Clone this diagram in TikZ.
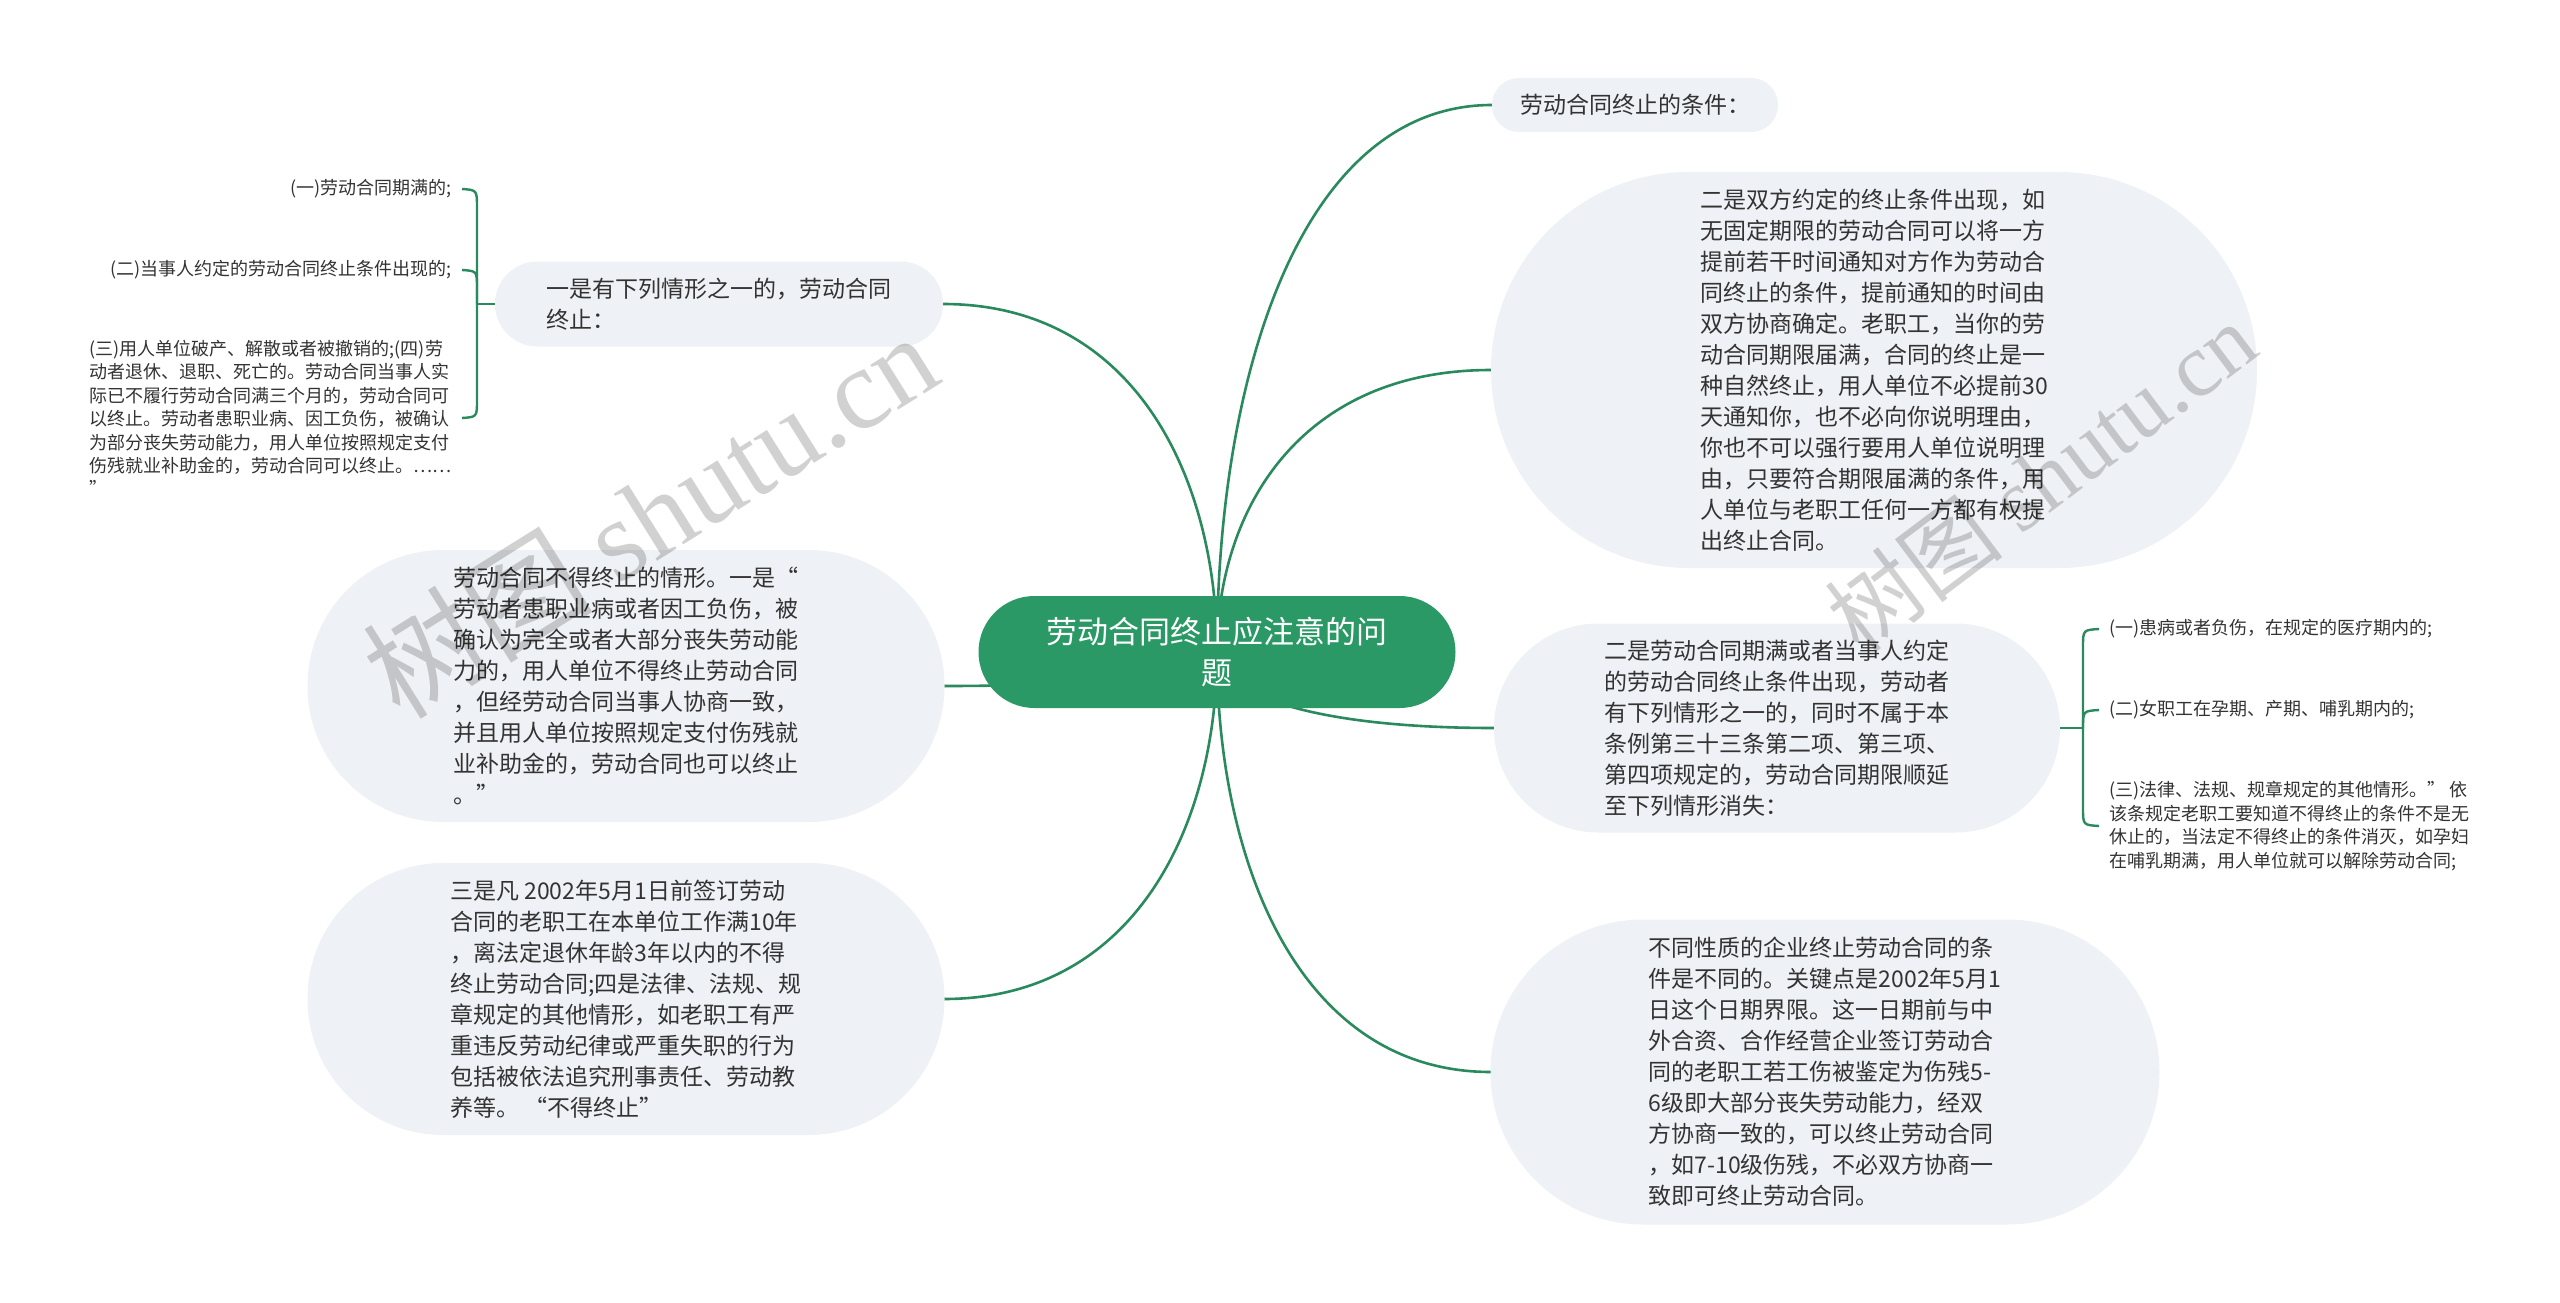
\documentclass[tikz,border=0pt]{standalone}
\usepackage{fontspec}
\setmainfont{Noto Sans CJK SC}
\newfontfamily\wmserif{Liberation Serif}
\definecolor{bub}{HTML}{EEF1F5}
\definecolor{grn}{HTML}{2A9966}
\definecolor{lin}{HTML}{2A8A5E}
\definecolor{txt}{HTML}{333333}
\begin{document}
\begin{tikzpicture}[x=1pt,y=-1pt,
  bubble/.style={fill=bub, text=txt, align=left, inner sep=0pt, font=\fontsize{23}{31}\selectfont},
  conn/.style={draw=lin, line width=2.6pt},
  brace/.style={draw=lin, line width=2.4pt},
  leaf/.style={text=txt, align=left, font=\fontsize{18}{23.4}\selectfont, inner xsep=10pt, inner ysep=0pt},
  wmark/.style={text=black, opacity=0.18}]
\useasboundingbox[fill=white] (0,0) rectangle (2560,1303);

% main connectors (behind nodes)
\coordinate (cc) at (1217,652);
\draw[conn] (cc) .. controls (1217,378) and (1300,105) .. (1492,105);
\draw[conn] (cc) .. controls (1217,511) and (1299,370) .. (1491,370);
\draw[conn] (cc) .. controls (1217,690) and (1300,728) .. (1494,728);
\draw[conn] (cc) .. controls (1217,862) and (1299,1072) .. (1491,1072);
\draw[conn] (cc) .. controls (1217,478) and (1135,304) .. (943,304);
\draw[conn] (cc) .. controls (1217,669) and (1135,686) .. (944,686);
\draw[conn] (cc) .. controls (1217,825) and (1135,999) .. (944,999);

% central node
\node[fill=grn, text=white, rounded corners=55.9pt, minimum width=477pt, minimum height=112pt,
      align=center, inner sep=0pt, font=\fontsize{31}{41}\selectfont] (c) at (1217,652)
  {劳动合同终止应注意的问\\题};

% right bubbles
\node[bubble, minimum width=286pt, minimum height=54pt, rounded corners=26.9pt] (r1) at (1635,105)
  {劳动合同终止的条件：};
\node[bubble, minimum width=766pt, minimum height=396pt, rounded corners=197.9pt] (r2) at (1874,370)
  {二是双方约定的终止条件出现，如\\
   无固定期限的劳动合同可以将一方\\
   提前若干时间通知对方作为劳动合\\
   同终止的条件，提前通知的时间由\\
   双方协商确定。老职工，当你的劳\\
   动合同期限届满，合同的终止是一\\
   种自然终止，用人单位不必提前30\\
   天通知你，也不必向你说明理由，\\
   你也不可以强行要用人单位说明理\\
   由，只要符合期限届满的条件，用\\
   人单位与老职工任何一方都有权提\\
   出终止合同。};
\node[bubble, minimum width=566pt, minimum height=209pt, rounded corners=104.4pt] (r3) at (1777,728)
  {二是劳动合同期满或者当事人约定\\
   的劳动合同终止条件出现，劳动者\\
   有下列情形之一的，同时不属于本\\
   条例第三十三条第二项、第三项、\\
   第四项规定的，劳动合同期限顺延\\
   至下列情形消失：};
\node[bubble, minimum width=669pt, minimum height=305pt, rounded corners=152.4pt] (r4) at (1825,1072)
  {不同性质的企业终止劳动合同的条\\
   件是不同的。关键点是2002年5月1\\
   日这个日期界限。这一日期前与中\\
   外合资、合作经营企业签订劳动合\\
   同的老职工若工伤被鉴定为伤残5-\\
   6级即大部分丧失劳动能力，经双\\
   方协商一致的，可以终止劳动合同\\
   ，如7-10级伤残，不必双方协商一\\
   致即可终止劳动合同。};

% left bubbles
\node[bubble, minimum width=448pt, minimum height=85pt, rounded corners=42.4pt] (l1) at (719,304)
  {一是有下列情形之一的，劳动合同\\终止：};
\node[bubble, minimum width=637pt, minimum height=272pt, rounded corners=135.9pt] (l2) at (626,686)
  {劳动合同不得终止的情形。一是“\\
   劳动者患职业病或者因工负伤，被\\
   确认为完全或者大部分丧失劳动能\\
   力的，用人单位不得终止劳动合同\\
   ，但经劳动合同当事人协商一致，\\
   并且用人单位按照规定支付伤残就\\
   业补助金的，劳动合同也可以终止\\
   。”};
\node[bubble, minimum width=637pt, minimum height=272pt, rounded corners=135.9pt] (l3) at (626,999)
  {三是凡 2002年5月1日前签订劳动\\
   合同的老职工在本单位工作满10年\\
   ，离法定退休年龄3年以内的不得\\
   终止劳动合同;四是法律、法规、规\\
   章规定的其他情形，如老职工有严\\
   重违反劳动纪律或严重失职的行为\\
   包括被依法追究刑事责任、劳动教\\
   养等。 “不得终止”};

% left leaves
\node[leaf, anchor=east] (la) at (462,189) {(一)劳动合同期满的;};
\node[leaf, anchor=east] (lb) at (462,270) {(二)当事人约定的劳动合同终止条件出现的;};
\node[leaf, anchor=east] (lc) at (462,418)
  {(三)用人单位破产、解散或者被撤销的;(四)劳\\
   动者退休、退职、死亡的。劳动合同当事人实\\
   际已不履行劳动合同满三个月的，劳动合同可\\
   以终止。劳动者患职业病、因工负伤，被确认\\
   为部分丧失劳动能力，用人单位按照规定支付\\
   伤残就业补助金的，劳动合同可以终止。……\\
   ”};

% right leaves
\node[leaf, anchor=west] (ra) at (2099,629) {(一)患病或者负伤，在规定的医疗期内的;};
\node[leaf, anchor=west] (rb) at (2099,710) {(二)女职工在孕期、产期、哺乳期内的;};
\node[leaf, anchor=west] (rc) at (2099,826)
  {(三)法律、法规、规章规定的其他情形。” 依\\
   该条规定老职工要知道不得终止的条件不是无\\
   休止的，当法定不得终止的条件消灭，如孕妇\\
   在哺乳期满，用人单位就可以解除劳动合同;};

% left brace
\coordinate (jl) at (477,304);
\draw[brace] (l1.west) -- (jl);
\draw[brace] (jl) -- (477,208) .. controls (477,190) .. (la.east);
\draw[brace] (jl) -- (477,288) .. controls (477,271) .. (lb.east);
\draw[brace] (jl) -- (477,400) .. controls (477,417) .. (lc.east);

% right brace
\coordinate (jr) at (2083,728);
\draw[brace] (r3.east) -- (jr);
\draw[brace] (jr) -- (2083,647) .. controls (2083,630) .. (ra.west);
\draw[brace] (jr) .. controls (2083,711) .. (rb.west);
\draw[brace] (jr) -- (2083,808) .. controls (2083,825) .. (rc.west);

% watermarks
\node[wmark, rotate=32, font=\fontsize{115}{115}\selectfont] (wm1) at (650,514) {树图 {\wmserif shutu.cn}};
\node[wmark, rotate=37, font=\fontsize{90}{90}\selectfont] (wm2) at (2041,477) {树图 {\wmserif shutu.cn}};
\end{tikzpicture}
\end{document}
